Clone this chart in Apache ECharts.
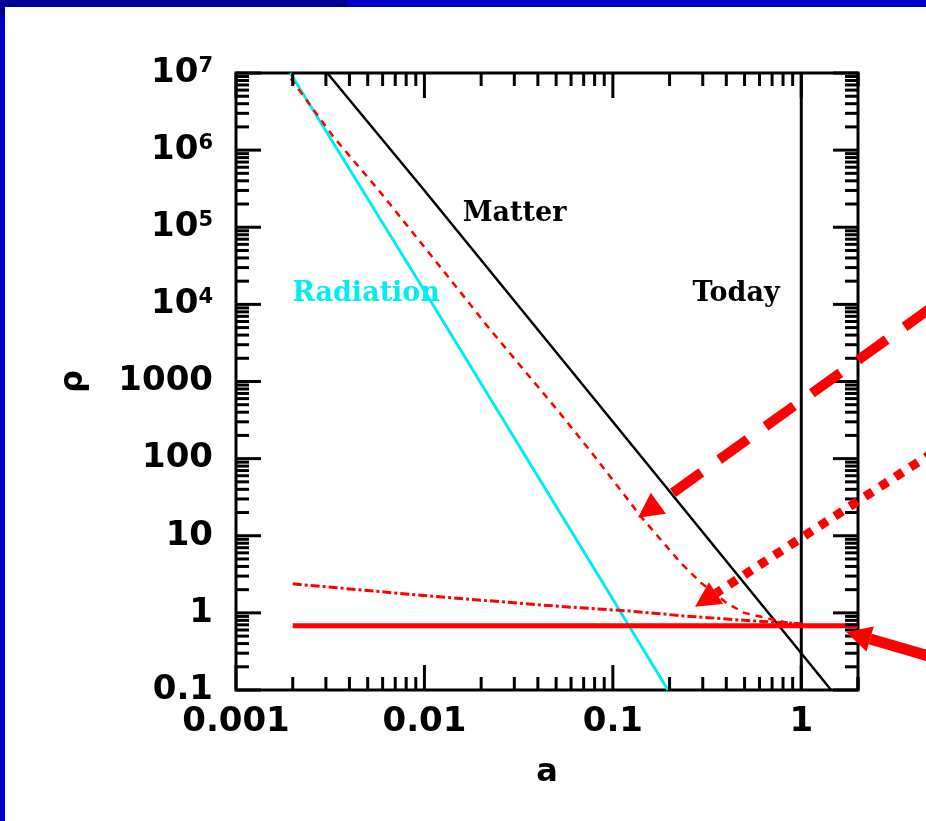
<!DOCTYPE html>
<html lang="en">
<head>
<meta charset="UTF-8" />
<title>rho vs a</title>
<script src="https://cdn.jsdelivr.net/npm/echarts@6/dist/echarts.min.js"></script>
<style>
  html, body { margin: 0; padding: 0; background: #fff; }
  #main { width: 926px; height: 821px; }
</style>
</head>
<body>
<div id="main"></div>
<script>
// values, as [a, rho]
var matter = [[0.00305, 1e7], [0.01, 3.0e5], [0.1, 300], [1, 0.3], [1.44, 0.1]];
var radiation = [[0.00194, 1e7], [0.01, 1.5e4], [0.1, 1.5], [0.196, 0.1]];
var darkDashed = [[0.00195, 8.5e6], [0.00328, 1.5e6], [0.00583, 2.85e5], [0.00953, 6.4e4],
    [0.015, 1.6e4], [0.0216, 5200], [0.0528, 380], [0.0793, 110], [0.141, 17.7],
    [0.23, 4.4], [0.294, 2.45], [0.4, 1.35], [0.498, 1.0], [0.853, 0.74], [1, 0.72]];
var darkDotDash = [[0.002, 2.38], [0.0104, 1.66], [0.0528, 1.21], [0.121, 1.06],
    [0.23, 0.92], [0.5, 0.8], [0.85, 0.74], [1, 0.72]];
var lambdaConst = [[0.002, 0.68], [2, 0.68]];
var todayLine = [[1, 0.1], [1, 1e7]];

var xLabelVals = [0.001, 0.01, 0.1, 1];
var yLabelVals = [0.1, 1, 10, 100, 1000, 1e4, 1e5, 1e6, 1e7];

// text labels inside the plot: [a, rho, text, colour]
var notes = [[0.0301, 1.5e5, 'Matter', '#000'], [0.00491, 1.38e4, 'Radiation', '#00eef0'], [0.451, 1.35e4, 'Today', '#000']];

// big red arrows: tail, tip (data coords), dash pattern, width
var arrows = [
    { tail: [5, 9400], tip: [0.136, 17.1], dash: [35, 22], width: 10 },
    { tail: [5, 120], tip: [0.273, 1.2], dash: [9, 9], width: 9 },
    { tail: [5, 0.265], tip: [1.73, 0.567], dash: null, width: 11 }
];

// log ticks (major on decades, minor 2..9)
var xTicks = [], yTicks = [];
for (var k = -3; k <= 0; k++) {
    for (var m = 1; m <= 9; m++) {
        var v = m * Math.pow(10, k);
        if (v <= 2.001) xTicks.push([v, 1, m === 1 ? 1 : 0, 0]);
    }
}
xTicks.push([2, 1, 0, 0]);
for (var k = -1; k <= 7; k++) {
    for (var m = 1; m <= 9; m++) {
        if (k === 7 && m > 1) break;
        yTicks.push([1, m * Math.pow(10, k), m === 1 ? 1 : 0, 1]);
    }
}

function isDecade(v, list) {
    for (var i = 0; i < list.length; i++) {
        if (Math.abs(Math.log10(v) - Math.log10(list[i])) < 1e-6) return list[i];
    }
    return null;
}

var font = 'DejaVu Sans';
var myChart = echarts.init(document.getElementById('main'));

function tickItem(params, api) {
    var cs = params.coordSys;
    var p = api.coord([api.value(0), api.value(1)]);
    var len = api.value(2) ? 25 : 13;
    var st = { stroke: '#000', lineWidth: 3 };
    if (api.value(3) === 0) {
        return { type: 'group', children: [
            { type: 'line', shape: { x1: p[0], y1: cs.y + cs.height, x2: p[0], y2: cs.y + cs.height - len }, style: st },
            { type: 'line', shape: { x1: p[0], y1: cs.y, x2: p[0], y2: cs.y + len }, style: st }
        ] };
    }
    return { type: 'group', children: [
        { type: 'line', shape: { x1: cs.x, y1: p[1], x2: cs.x + len, y2: p[1] }, style: st },
        { type: 'line', shape: { x1: cs.x + cs.width, y1: p[1], x2: cs.x + cs.width - len, y2: p[1] }, style: st }
    ] };
}

var option = {
    backgroundColor: '#fff',
    animation: false,
    grid: { left: 236, right: 68, top: 73, bottom: 131, show: true, borderColor: '#000', borderWidth: 3 },
    xAxis: {
        type: 'log', min: 0.001, max: 2,
        name: 'a', nameLocation: 'middle', nameGap: 67,
        nameTextStyle: { fontFamily: font, fontWeight: 'bold', fontSize: 32, color: '#000' },
        axisLine: { show: false }, axisTick: { show: false }, splitLine: { show: false },
        axisLabel: {
            margin: 15, fontFamily: font, fontWeight: 'bold', fontSize: 34, color: '#000',
            formatter: function (v) {
                var d = isDecade(v, xLabelVals);
                return d === null ? '' : String(d);
            }
        }
    },
    yAxis: {
        type: 'log', min: 0.1, max: 1e7,
        name: 'ρ', nameLocation: 'middle', nameGap: 146, nameRotate: 90,
        nameTextStyle: { fontFamily: font, fontWeight: 'bold', fontSize: 32, color: '#000' },
        axisLine: { show: false }, axisTick: { show: false }, splitLine: { show: false },
        axisLabel: {
            margin: 23, fontFamily: font, fontWeight: 'bold', fontSize: 34, color: '#000', lineHeight: 34,
            formatter: function (v) {
                var d = isDecade(v, yLabelVals);
                if (d === null) return '';
                var k = Math.round(Math.log10(d));
                if (k >= 4) return '10{s|' + k + '}';
                return k >= 0 ? String(Math.pow(10, k)) : '0.1';
            },
            rich: { s: { fontFamily: font, fontWeight: 'bold', fontSize: 21, verticalAlign: 'top', color: '#000' } }
        }
    },
    series: [
        { name: 'Radiation', type: 'line', data: radiation, symbol: 'none', lineStyle: { color: '#00eef0', width: 3 } },
        { name: 'Matter', type: 'line', data: matter, symbol: 'none', lineStyle: { color: '#000', width: 2.5 } },
        { name: 'Today', type: 'line', data: todayLine, symbol: 'none', lineStyle: { color: '#000', width: 3 } },
        { name: 'dashed', type: 'line', data: darkDashed, symbol: 'none', lineStyle: { color: '#ff0000', width: 2.5, type: [7, 6] } },
        { name: 'dotdash', type: 'line', data: darkDotDash, symbol: 'none', lineStyle: { color: '#ff0000', width: 3, type: [9, 3, 3, 3] } },
        { name: 'lambda', type: 'line', data: lambdaConst, symbol: 'none', lineStyle: { color: '#ff0000', width: 5 } },
        { name: 'xticks', type: 'custom', data: xTicks, renderItem: tickItem, clip: false, z: 5 },
        { name: 'yticks', type: 'custom', data: yTicks, renderItem: tickItem, clip: false, z: 5 }
    ]
};

myChart.setOption(option);

// annotations placed from data coordinates
var g = [
    { type: 'rect', shape: { x: 0, y: 0, width: 5, height: 821 }, style: { fill: '#0000cc' }, z: 10 },
    { type: 'rect', shape: { x: 0, y: 0, width: 926, height: 7 }, style: { fill: '#0000cc' }, z: 10 },
    { type: 'rect', shape: { x: 0, y: 0, width: 347, height: 7 }, style: { fill: '#000099' }, z: 11 },
    { type: 'rect', shape: { x: 0, y: 0, width: 5, height: 17 }, style: { fill: '#000099' }, z: 11 }
];
notes.forEach(function (n) {
    var p = myChart.convertToPixel({ gridIndex: 0 }, [n[0], n[1]]);
    g.push({ type: 'text', x: p[0], y: p[1], z: 20,
        style: { text: n[2], fill: n[3], font: 'bold 27px "DejaVu Serif"', align: 'center', verticalAlign: 'middle' } });
});
arrows.forEach(function (ar) {
    var t0 = myChart.convertToPixel({ gridIndex: 0 }, ar.tail);
    var t1 = myChart.convertToPixel({ gridIndex: 0 }, ar.tip);
    var dx = t1[0] - t0[0], dy = t1[1] - t0[1];
    var L = Math.sqrt(dx * dx + dy * dy);
    var ux = dx / L, uy = dy / L;
    var hl = 25, hw = 13;
    var bx = t1[0] - ux * hl, by = t1[1] - uy * hl;
    g.push({ type: 'line', z: 30, shape: { x1: t0[0], y1: t0[1], x2: bx, y2: by },
        style: { stroke: '#ff0000', lineWidth: ar.width, lineDash: ar.dash, lineCap: 'butt' } });
    g.push({ type: 'polygon', z: 30, shape: { points: [[t1[0], t1[1]], [bx - uy * hw, by + ux * hw], [bx + uy * hw, by - ux * hw]] },
        style: { fill: '#ff0000' } });
});
myChart.setOption({ graphic: g });
</script>
</body>
</html>
